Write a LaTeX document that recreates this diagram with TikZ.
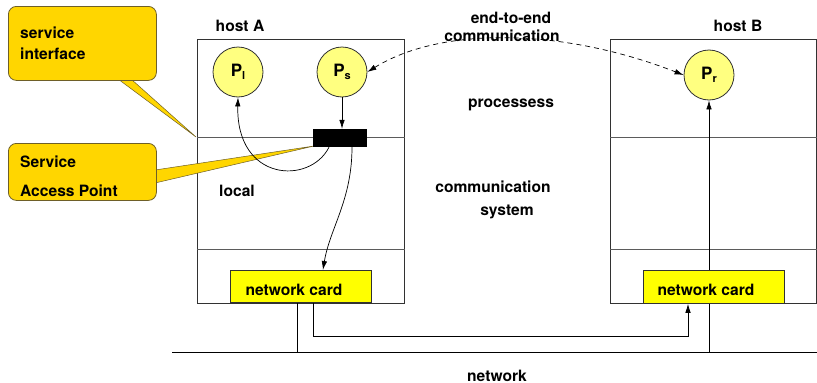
\documentclass[tikz,border=0pt]{standalone}
\usepackage{fontspec}
\setmainfont{TeX Gyre Heros}
\usetikzlibrary{arrows.meta,calc}
\definecolor{gold}{RGB}{255,214,0}
\definecolor{goldedge}{RGB}{110,95,40}
\definecolor{circfill}{RGB}{255,255,128}
\definecolor{cardfill}{RGB}{255,255,0}
\definecolor{linegray}{RGB}{50,50,50}
\begin{document}
\begin{tikzpicture}[x=1pt,y=-1pt,
  font=\fontsize{15.6}{18}\selectfont\bfseries,
  hostbox/.style={draw=linegray,line width=0.9pt,inner sep=0pt,anchor=north west},
  divider/.style={draw=linegray!80,line width=0.9pt},
  callout/.style={draw=goldedge,fill=gold,line width=0.8pt,rounded corners=8pt,inner sep=0pt,anchor=north west},
  wedge/.style={fill=gold,draw=goldedge,line width=0.5pt},
  proc/.style={circle,draw=linegray,fill=circfill,line width=0.8pt,minimum size=50pt,inner sep=0pt,font=\fontsize{17}{18}\selectfont\bfseries},
  card/.style={draw=linegray,fill=cardfill,line width=0.8pt,inner sep=0pt,anchor=north west},
  lbl/.style={anchor=base,inner sep=0pt},
  lbll/.style={anchor=base west,inner sep=0pt},
  arr/.style={-{Latex[length=9pt,width=5.5pt]},line width=0.7pt},
  wire/.style={line width=0.8pt,draw=black}]
\useasboundingbox (0,0) rectangle (817,383);

% hosts
\node[hostbox,minimum width=207pt,minimum height=264pt] (hostA) at (197,39) {};
\node[hostbox,minimum width=206pt,minimum height=264pt] (hostB) at (610,39) {};
\draw[divider] (hostA.west |- 0,137) -- (hostA.east |- 0,137);
\draw[divider] (hostA.west |- 0,249) -- (hostA.east |- 0,249);
\draw[divider] (hostB.west |- 0,137) -- (hostB.east |- 0,137);
\draw[divider] (hostB.west |- 0,249) -- (hostB.east |- 0,249);

\node[lbl] (hostAl) at (240,31) {host A};
\node[lbl] (hostBl) at (738,31) {host B};

% network
\coordinate (netL) at (172,352);
\coordinate (netR) at (817,352);
\draw[wire] (netL) -- (netR);
\node[lbl] (netl) at (497,381) {network};

% callout wedges
\draw[wedge] (118,79) -- (196,137) -- (131,79) -- cycle;
\draw[wedge] (155,170) -- (314,146) -- (155,183) -- cycle;

% callout boxes
\node[callout,minimum width=148pt,minimum height=74pt] (si) at (8,6) {};
\node[lbll] (si1) at (20,38) {service};
\node[lbll] (si2) at (20,59) {interface};
\node[callout,minimum width=148pt,minimum height=57pt] (sapbox) at (8,143) {};
\node[lbll] (sap1) at (20,167) {Service};
\node[lbll] (sap2) at (20,196) {Access Point};

% service access point
\node[fill=black,minimum width=54pt,minimum height=18pt,inner sep=0pt] (sap) at (340,138) {};

% processes
\node[proc] (Pl) at (238,72) {P\raisebox{-3pt}{\fontsize{11}{12}\selectfont l}};
\node[proc] (Ps) at (342,72) {P\raisebox{-3pt}{\fontsize{11}{12}\selectfont s}};
\node[proc] (Pr) at (709,75) {P\raisebox{-3pt}{\fontsize{11}{12}\selectfont r}};

% texts
\node[lbl] (e2e1) at (511,23) {end-to-end};
\node[lbl] (e2e2) at (502,41) {communication};
\node[lbl] (procl) at (511,107) {processess};
\node[lbl] (comm1) at (493,192) {communication};
\node[lbl] (comm2) at (507,215) {system};
\node[lbl] (local) at (237,196) {local};

% wires below host A and B
\coordinate (dropA) at (297,352);
\coordinate (routeA) at (313,336);
\coordinate (routeB) at (688,336);
\coordinate (dropB) at (709,352);
\draw[wire] (dropA |- 0,302) -- (dropA);
\draw[arr] (dropB) -- (Pr.south);

% network cards
\node[card,minimum width=141pt,minimum height=32pt] (cardA) at (230,270) {};
\node[card,minimum width=141pt,minimum height=33pt] (cardB) at (643,270) {};
\node[lbl] (cardAl) at (294,295) {network card};
\node[lbl] (cardBl) at (706,295) {network card};

\draw[arr] (routeA |- cardA.south) -- (routeA) -- (routeB) -- (routeB |- cardB.south);

% arrows in host A
\draw[arr] (Ps.south) -- (Ps.south |- sap.north);
\draw[arr] ([xshift=-11pt]sap.south) .. controls (310,185) and (236,182) .. (Pl.south);
\draw[arr] ([xshift=12pt]sap.south) .. controls (352,200) and (330,228) .. ([xshift=22pt]cardA.north);

% end-to-end
\draw[{Latex[length=9pt,width=5.5pt]}-{Latex[length=9pt,width=5.5pt]},dash pattern=on 5pt off 4pt,line width=0.7pt] (Ps.east) .. controls (440,27) and (560,27) .. (Pr.west);
\end{tikzpicture}
\end{document}
